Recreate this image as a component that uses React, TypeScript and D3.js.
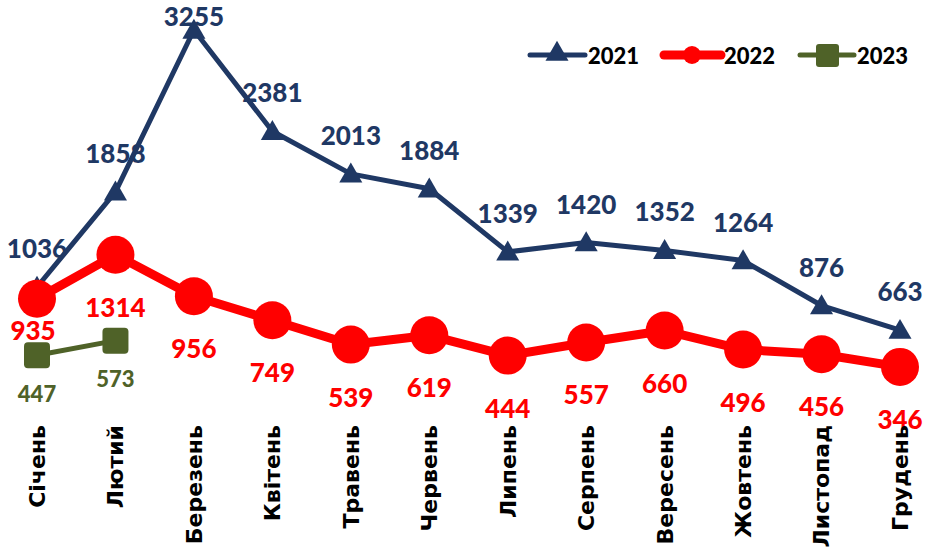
import React from "react";
import * as d3 from "d3";

const months = [
  "Січень", "Лютий", "Березень", "Квітень", "Травень", "Червень",
  "Липень", "Серпень", "Вересень", "Жовтень", "Листопад", "Грудень",
];
const values2021 = [1036, 1858, 3255, 2381, 2013, 1884, 1339, 1420, 1352, 1264, 876, 663];
const values2022 = [935, 1314, 956, 749, 539, 619, 444, 557, 660, 496, 456, 346];
const values2023 = [447, 573];

const W = 933;
const H = 549;
const BLUE = "#1f3864";
const RED = "#ff0000";
const GREEN = "#4f6228";
const numFont = "Lato, 'Open Sans', sans-serif";

const App = () => {
  const x = d3.scalePoint<string>().domain(months).range([37, 900]);
  const y = d3.scaleLinear().domain([0, 3255]).range([407, 30]);

  const line = d3
    .line<number>()
    .x((_, i) => x(months[i]) as number)
    .y((d) => y(d));

  const tri = d3.symbol().type(d3.symbolTriangle).size(230)() as string;

  return (
    <svg
      width={W}
      height={H}
      style={{ position: "absolute", left: 0, top: 0, background: "#fff" }}
    >
      {/* 2021 */}
      <path d={line(values2021) as string} fill="none" stroke={BLUE} strokeWidth={5} strokeLinejoin="round" />
      {values2021.map((v, i) => (
        <path key={"t" + i} d={tri} transform={`translate(${x(months[i])},${y(v) + 2})`} fill={BLUE} />
      ))}
      {values2021.map((v, i) => (
        <text
          key={"lt" + i}
          x={x(months[i])}
          y={Math.max(y(v) - 39, 16)}
          textAnchor="middle"
          dominantBaseline="central"
          fontFamily={numFont}
          fontWeight={900}
          fontSize={26}
          fill={BLUE}
        >
          {v}
        </text>
      ))}

      {/* 2022 */}
      <path d={line(values2022) as string} fill="none" stroke={RED} strokeWidth={9} strokeLinejoin="round" />
      {values2022.map((v, i) => (
        <circle key={"c" + i} cx={x(months[i])} cy={y(v)} r={19} fill={RED} />
      ))}
      {values2022.map((v, i) => (
        <text
          key={"lc" + i}
          x={(x(months[i]) as number) - (i === 0 ? 4 : 0)}
          y={y(v) + (i === 0 ? 31 : 52)}
          textAnchor="middle"
          dominantBaseline="central"
          fontFamily={numFont}
          fontWeight={900}
          fontSize={26}
          fill={RED}
        >
          {v}
        </text>
      ))}

      {/* 2023 */}
      <path d={line(values2023) as string} fill="none" stroke={GREEN} strokeWidth={5} />
      {values2023.map((v, i) => (
        <rect
          key={"s" + i}
          x={(x(months[i]) as number) - 13}
          y={y(v) - 13}
          width={26}
          height={26}
          rx={4}
          fill={GREEN}
        />
      ))}
      {values2023.map((v, i) => (
        <text
          key={"ls" + i}
          x={x(months[i])}
          y={y(v) + 38}
          textAnchor="middle"
          dominantBaseline="central"
          fontFamily={numFont}
          fontWeight={900}
          fontSize={22}
          fill={GREEN}
        >
          {v}
        </text>
      ))}

      {/* month labels */}
      {months.map((m) => (
        <text
          key={m}
          transform={`translate(${x(m)},425) rotate(-90)`}
          textAnchor="end"
          dy="0.36em"
          fontFamily="'DejaVu Sans', sans-serif"
          fontWeight="bold"
          fontSize={22}
          fill="#000"
        >
          {m}
        </text>
      ))}

      {/* legend */}
      <g fontFamily={numFont} fontWeight={900} fontSize={22} fill="#000">
        <line x1={530} x2={585} y1={55} y2={55} stroke={BLUE} strokeWidth={5} strokeLinecap="round" />
        <path d={tri} transform="translate(557,54)" fill={BLUE} />
        <text x={588} y={55} dominantBaseline="central">2021</text>

        <line x1={664} x2={721} y1={55} y2={55} stroke={RED} strokeWidth={9} strokeLinecap="round" />
        <circle cx={692} cy={55} r={9} fill={RED} />
        <text x={724} y={55} dominantBaseline="central">2022</text>

        <line x1={800} x2={854} y1={55} y2={55} stroke={GREEN} strokeWidth={5} strokeLinecap="round" />
        <rect x={816} y={44} width={23} height={23} rx={3} fill={GREEN} />
        <text x={857} y={55} dominantBaseline="central">2023</text>
      </g>
    </svg>
  );
};

export default App;
